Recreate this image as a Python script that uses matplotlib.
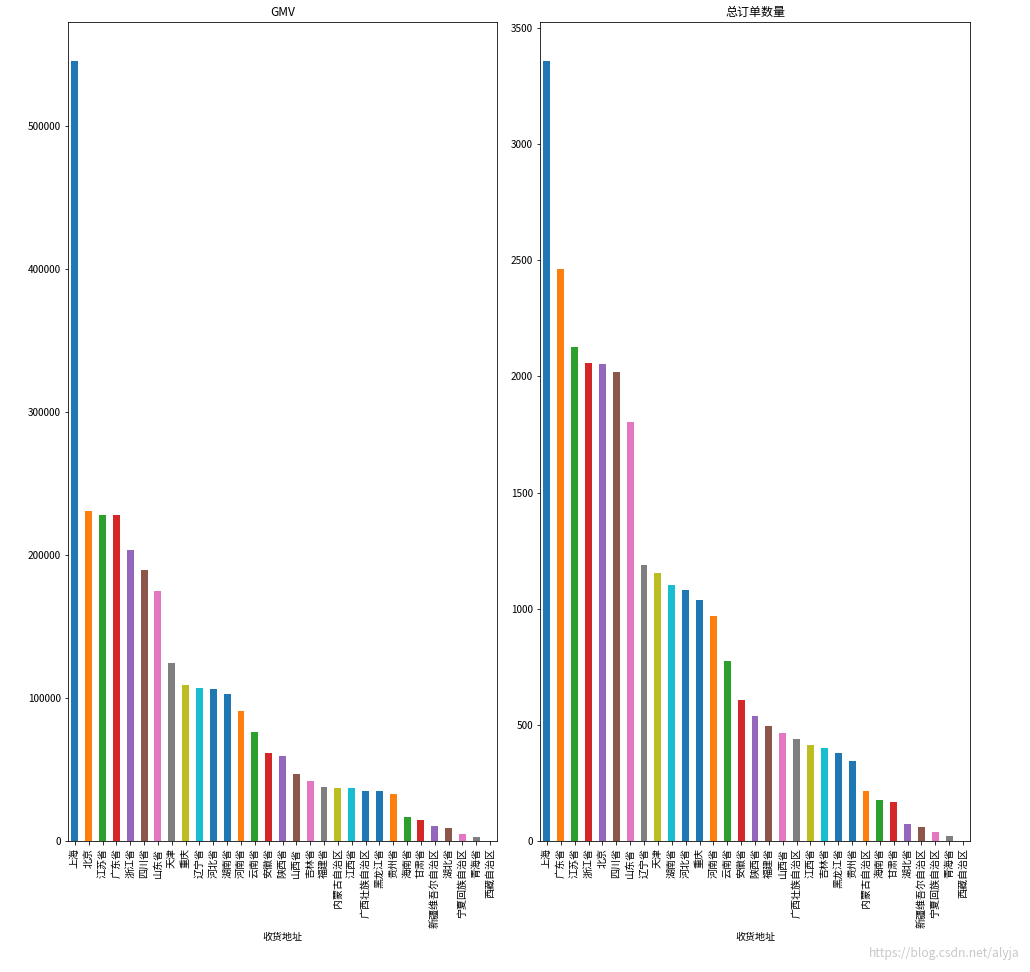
import matplotlib
matplotlib.use("Agg")
import matplotlib.pyplot as plt

plt.rcParams['font.family'] = ['Noto Sans CJK SC', 'DejaVu Sans']
plt.rcParams['axes.unicode_minus'] = False

gmv_regions = ["上海", "北京", "江苏省", "广东省", "浙江省", "四川省", "山东省", "天津", "重庆",
               "辽宁省", "河北省", "湖南省", "河南省", "云南省", "安徽省", "陕西省", "山西省", "吉林省",
               "福建省", "内蒙古自治区", "江西省", "广西壮族自治区", "黑龙江省", "贵州省", "海南省",
               "甘肃省", "新疆维吾尔自治区", "湖北省", "宁夏回族自治区", "青海省", "西藏自治区"]
gmv_values = [545500, 231000, 228000, 227800, 203400, 189400, 175100, 124700, 109100,
              107200, 106500, 102800, 90900, 75900, 61700, 59500, 46900, 42200,
              37600, 36900, 36800, 35100, 35000, 32600, 17000,
              14600, 10700, 9100, 5100, 2800, 300]

order_regions = ["上海", "广东省", "江苏省", "浙江省", "北京", "四川省", "山东省", "辽宁省", "天津",
                 "湖南省", "河北省", "重庆", "河南省", "云南省", "安徽省", "陕西省", "福建省", "山西省",
                 "广西壮族自治区", "江西省", "吉林省", "黑龙江省", "贵州省", "内蒙古自治区", "海南省",
                 "甘肃省", "湖北省", "新疆维吾尔自治区", "宁夏回族自治区", "青海省", "西藏自治区"]
order_values = [3358, 2461, 2127, 2059, 2055, 2019, 1802, 1188, 1153,
                1100, 1082, 1039, 967, 777, 608, 536, 493, 467,
                438, 414, 400, 381, 346, 217, 177,
                167, 75, 60, 40, 22, 2]

tab = ['#1f77b4', '#ff7f0e', '#2ca02c', '#d62728', '#9467bd', '#8c564b',
       '#e377c2', '#7f7f7f', '#bcbd22', '#17becf', '#1f77b4']

fig = plt.figure(figsize=(1030/72, 972/72), dpi=72)
ax1 = fig.add_axes([68/1030, 1-841/972, 429/1030, 819/972])
ax2 = fig.add_axes([540/1030, 1-841/972, 430/1030, 819/972])

for ax, cats, vals, title in [(ax1, gmv_regions, gmv_values, "GMV"),
                              (ax2, order_regions, order_values, "总订单数量")]:
    x = list(range(len(cats)))
    cols = [tab[i % len(tab)] for i in x]
    ax.bar(x, vals, width=0.5, color=cols)
    ax.set_xlim(-0.5, len(cats) - 0.5)
    ax.set_ylim(0, max(vals) * 1.05)
    ax.set_xticks(x)
    ax.set_xticklabels(cats, rotation=90, fontsize=10)
    ax.tick_params(axis='y', labelsize=10)
    ax.set_title(title, fontsize=12)
    ax.set_xlabel("收货地址", fontsize=10)

ax1.set_yticks([0, 100000, 200000, 300000, 400000, 500000])
ax2.set_yticks([0, 500, 1000, 1500, 2000, 2500, 3000, 3500])

fig.text(0.99, 0.012, "https://blog.csdn.net/alyja", ha='right', va='bottom',
         fontsize=12, color='#c8c8c8')

fig.savefig("out.png", dpi=72)
